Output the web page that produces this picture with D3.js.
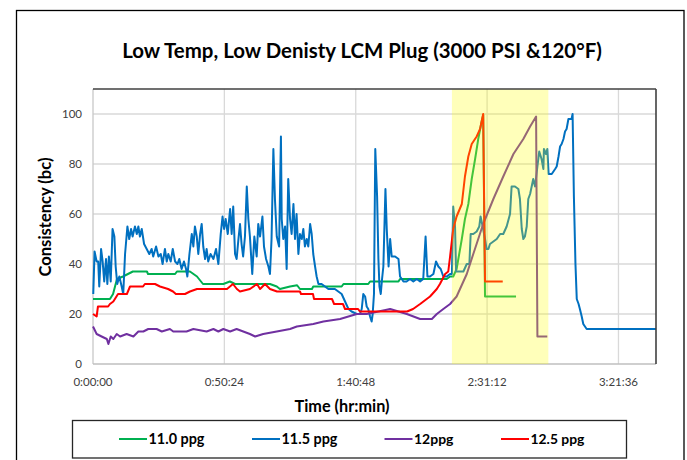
<!DOCTYPE html>
<html><head><meta charset="utf-8">
<script src="https://cdn.jsdelivr.net/npm/d3@7"></script>
<style>body{margin:0;background:#fff}svg{display:block}</style>
</head><body>
<svg id="chart" width="687" height="460"></svg>
<script>
// ---- data (time in minutes, consistency in Bc) ----
const seriesNames = ["11.0 ppg", "11.5 ppg", "12ppg", "12.5 ppg"];
const seriesColors = ["#00B050", "#0070C0", "#7030A0", "#FF0000"];
const xTickMinutes = [0, 50.4, 100.8, 151.2, 201.6];
const yTicks = [0, 20, 40, 60, 80, 100];
const bandMinutes = [137.7, 174.7];

const ppg110 = [[0,26],[6.5,26],[7.7,28],[9.2,34],[11.5,35],[15.3,37],[20.7,37],[21.1,36],[31.5,36],[32.2,37],[37.2,37],[39.9,35],[42.2,32],[50,32],[52.5,33],[54.5,32],[67.9,32],[70.5,31],[71.7,30],[75.6,31],[78.3,31.5],[79.4,30],[84,30],[84.5,31],[95.4,31],[96.1,32],[105.6,32],[106.3,33],[117.2,33],[117.8,34],[135.7,34],[137,35],[138.2,35],[139.5,38],[141.5,50],[142.7,58],[144,64],[145.3,74],[146.6,82],[147.8,90],[149.1,97],[149.7,99.6],[150.4,27],[162.3,27]];

const ppg115 = [[0.1,28],[0.6,45],[1.4,41],[2.0,41],[2.4,31],[3.1,46],[3.7,41],[4.3,33],[5.0,42],[5.5,32],[6.1,43],[6.8,33],[7.5,54],[8.2,51],[8.7,39],[9.3,32],[10.1,35],[11.0,31],[11.6,28],[12.3,44],[13.2,55],[13.9,50],[14.6,54],[15.2,51],[16.1,55],[16.8,52],[17.4,55],[18.0,51],[18.7,54],[19.6,48],[20.6,46],[21.6,44],[22.5,46],[23.1,43],[24.2,47],[25.1,43],[26.0,44],[26.7,40],[27.6,46],[28.3,41],[28.9,44],[29.8,41],[30.6,46],[31.5,41],[32.4,40],[33.1,42],[34.0,38],[34.9,41],[35.7,38],[36.2,35],[37.0,44],[37.9,52],[38.5,47],[39.1,55],[39.8,51],[40.4,44],[41.1,52],[41.7,56],[42.3,47],[43.0,42],[43.6,46],[44.2,41],[45.1,44],[46.2,42],[47.2,46],[48.1,40],[49.0,52],[49.7,59],[50.3,54],[50.9,58],[51.7,52],[52.6,62],[53.2,52],[53.8,63],[54.5,44],[55.1,42],[55.8,50],[56.4,56],[57.0,48],[57.6,43],[58.3,51],[59.0,71],[59.6,58],[60.2,51],[61.1,36],[61.9,51],[62.8,43],[63.4,56],[64.1,51],[65.0,59],[65.6,47],[66.4,42],[67.3,39],[67.9,36],[68.5,50],[69.2,86],[69.8,66],[70.5,51],[71.4,47],[72.1,91],[72.4,58],[73.0,50],[73.7,55],[74.3,38],[74.9,74],[75.6,58],[76.2,52],[76.9,64],[77.5,50],[78.1,60],[78.8,44],[79.4,52],[80.1,50],[80.7,54],[81.3,47],[82.0,50],[82.6,47],[83.3,56],[83.9,52],[84.5,44],[85.2,39],[85.8,35],[86.5,32],[87.7,32],[89.0,31],[90.3,30],[91.6,30],[92.8,30],[94.1,29],[95.4,28],[96.7,25],[98.0,22],[99.2,21],[101.2,20],[102.4,20],[103.1,22],[103.7,28],[104.4,27],[105.0,23],[105.6,22],[106.3,19],[106.9,17],[107.3,20],[107.8,28],[108.3,86],[109.0,67],[109.5,42],[109.9,31],[110.4,28],[110.9,34],[111.4,39],[112.2,70],[112.7,54],[113.4,39],[114.0,50],[114.6,43],[115.9,43],[117.2,42],[117.8,35],[119.1,33],[120.3,33],[121.6,34],[122.9,33],[124.2,34],[125.5,33],[126.7,34],[127.6,51],[128.3,35],[129.3,35],[130.6,36],[131.6,41],[132.5,39],[133.4,38],[134.4,35],[135.7,35],[137.0,36],[137.7,36],[138.2,63],[138.9,55],[139.3,37],[140.8,37],[142.1,37],[143.4,40],[144.4,40],[144.9,52],[145.9,52],[147.2,53],[148.2,55],[148.7,59],[149.5,55],[150.4,50],[151.0,46],[151.7,46],[152.3,48],[153.6,49],[154.9,50],[156.2,52],[157.4,52],[158.7,55],[160.0,60],[160.6,71],[161.9,71],[163.2,70],[163.8,66],[164.5,54],[165.1,50],[165.7,51],[166.4,55],[167.0,66],[167.7,68],[168.3,71],[168.9,74],[169.6,71],[170.5,79],[171.2,85],[172.1,82],[172.8,78],[173.0,86],[173.8,84],[174.3,86],[174.8,76],[176.0,76],[177.3,78],[177.9,79],[178.6,83],[179.2,87],[179.8,88],[180.5,90],[181.1,93],[181.7,94],[182.4,98],[183.0,98],[183.6,98],[184.0,100],[184.5,67],[185.1,40],[185.6,26],[186.3,24],[186.8,22],[187.5,19],[188.1,16],[189.4,14],[190.7,14],[216,14]];

const ppg120 = [[0,15],[1.4,12],[3.3,11],[5.3,10],[5.9,8],[6.8,11],[7.8,10],[9.1,12],[10.4,11],[12.9,12],[15.5,11],[17.4,13],[19.3,13],[21.2,14],[24.4,14],[26.4,13],[29.5,14],[30.8,13],[35.9,13],[38.5,14],[43.6,13],[46.2,14],[48.1,13],[50.0,14],[52.6,13],[55.1,14],[60.2,12],[62.2,11],[65.3,12],[70.5,13],[75.6,14],[78.2,15],[84.5,16],[88.4,17],[94.8,18],[101.2,20],[105.0,20],[114.0,22],[120.4,20],[125.5,18],[130.0,18],[131.9,20],[134.4,22],[137.0,24],[139.5,27],[140.8,30],[143.4,36],[145.9,44],[149.7,56],[153.6,66],[157.4,75],[161.3,84],[165.1,90],[167.7,95],[170.0,99],[170.5,11],[174.3,11]];

const ppg125 = [[0,20],[1.4,19],[1.9,23],[5.8,23],[6.5,24],[7.8,25],[9.6,28],[13.0,28],[14.2,31],[19.2,31],[19.9,32],[23.8,32],[25.7,31],[28.8,30],[30.7,29],[31.8,28],[35.3,28],[37.2,29],[39.9,30],[51.4,30],[53.7,32],[55.2,30],[56.4,29],[60.2,30],[62.9,32],[64.1,30],[66.0,32],[67.9,30],[70.6,29],[79.4,29],[79.8,28],[84.4,28],[84.8,26],[91.7,26],[92.5,24],[95.9,24],[96.7,22],[101.7,22],[102.4,21],[120.5,21],[122.8,22],[125.5,24],[129.3,27],[131.9,30],[133.1,32],[135.1,36],[136.3,37],[137.0,43],[138.2,54],[139.5,59],[141.5,64],[142.7,75],[144.0,83],[145.3,88],[147.2,91],[148.5,94],[149.7,100],[150.4,33],[157.2,33]];

const allSeries = [ppg110, ppg115, ppg120, ppg125];

// ---- layout ----
const svg = d3.select("#chart");
const L = 93, R = 656, T = 89, B = 364;
const x = d3.scaleLinear().domain([0, 216]).range([L, R]);
const y = d3.scaleLinear().domain([0, 110]).range([B, T]);
const FONT = "Lato, 'Open Sans', sans-serif";

function fitWidth(sel, target) {
  const w = sel.node().getComputedTextLength();
  const fs = parseFloat(sel.attr("font-size"));
  sel.attr("font-size", fs * target / w);
}
function fmt(m) {
  const s = Math.round(m * 60);
  const h = Math.floor(s / 3600), mm = Math.floor((s % 3600) / 60), ss = s % 60;
  return h + ":" + String(mm).padStart(2, "0") + ":" + String(ss).padStart(2, "0");
}

// outer border
svg.append("rect").attr("x", 16.5).attr("y", 10.5).attr("width", 667.5).attr("height", 470)
  .attr("fill", "none").attr("stroke", "#000").attr("stroke-width", 1.3);

// title
const title = svg.append("text").attr("x", 362).attr("y", 58).attr("text-anchor", "middle")
  .attr("font-family", FONT).attr("font-weight", "bold").attr("font-size", 19).attr("fill", "#000")
  .text("Low Temp, Low Denisty LCM Plug (3000 PSI &120°F)");
fitWidth(title, 480);

// grid
const g = svg.append("g");
g.selectAll(".hg").data(yTicks.filter(d => d > 0)).enter().append("line")
  .attr("x1", L).attr("x2", R).attr("y1", d => y(d)).attr("y2", d => y(d))
  .attr("stroke", "#d9d9d9").attr("stroke-width", 1.3);
g.selectAll(".vg").data(xTickMinutes.filter(d => d > 0)).enter().append("line")
  .attr("x1", d => x(d)).attr("x2", d => x(d)).attr("y1", T).attr("y2", B)
  .attr("stroke", "#d9d9d9").attr("stroke-width", 1.3);

// axes lines
svg.append("line").attr("x1", L).attr("x2", L).attr("y1", T).attr("y2", B).attr("stroke", "#c8c8c8").attr("stroke-width", 1.3);
svg.append("line").attr("x1", L).attr("x2", R).attr("y1", B).attr("y2", B).attr("stroke", "#bfbfbf").attr("stroke-width", 1.3);

// series lines
const line = d3.line().x(d => x(d[0])).y(d => y(d[1]));
allSeries.forEach((s, i) => {
  svg.append("path").datum(s).attr("d", line).attr("fill", "none")
    .attr("stroke", seriesColors[i]).attr("stroke-width", 2).attr("stroke-linejoin", "round");
});

// highlight band (translucent yellow over the lines)
svg.append("rect").attr("x", x(bandMinutes[0])).attr("y", T)
  .attr("width", x(bandMinutes[1]) - x(bandMinutes[0])).attr("height", B - T)
  .attr("fill", "#FFFF00").attr("opacity", 0.27);

// plot border top/right
svg.append("line").attr("x1", L).attr("x2", R).attr("y1", T).attr("y2", T).attr("stroke", "#404040").attr("stroke-width", 1.6);
svg.append("line").attr("x1", R).attr("x2", R).attr("y1", T).attr("y2", B).attr("stroke", "#404040").attr("stroke-width", 1.6);

// tick labels
const xl = svg.selectAll(".xl").data(xTickMinutes).enter().append("text")
  .attr("x", d => x(d)).attr("y", 386).attr("text-anchor", "middle")
  .attr("font-family", FONT).attr("font-size", 11.5).attr("fill", "#404040").text(fmt);
svg.selectAll(".yl").data(yTicks).enter().append("text")
  .attr("x", 82).attr("y", d => y(d) + 4).attr("text-anchor", "end")
  .attr("font-family", FONT).attr("font-size", 11.5).attr("fill", "#404040").text(d => d);

// axis titles
const xt = svg.append("text").attr("x", 342).attr("y", 412).attr("text-anchor", "middle")
  .attr("font-family", FONT).attr("font-weight", "bold").attr("font-size", 14).attr("fill", "#000")
  .text("Time (hr:min)");
fitWidth(xt, 95);
const yt = svg.append("text").attr("transform", "translate(51,217) rotate(-90)").attr("text-anchor", "middle")
  .attr("font-family", FONT).attr("font-weight", "bold").attr("font-size", 14).attr("fill", "#000")
  .text("Consistency (bc)");
fitWidth(yt, 119);

// legend
svg.append("rect").attr("x", 72.5).attr("y", 420.5).attr("width", 554).attr("height", 37.5)
  .attr("fill", "#fff").attr("stroke", "#262626").attr("stroke-width", 1.3);
const legX = [119, 252, 384.5, 501];
const legW = [56, 56, 39.5, 54];
seriesNames.forEach((n, i) => {
  svg.append("line").attr("x1", legX[i]).attr("x2", legX[i] + 28).attr("y1", 439).attr("y2", 439)
    .attr("stroke", seriesColors[i]).attr("stroke-width", 2);
  const t = svg.append("text").attr("x", legX[i] + 29.5).attr("y", 444)
    .attr("font-family", FONT).attr("font-weight", "bold").attr("font-size", 13.5).attr("fill", "#000").text(n);
  fitWidth(t, legW[i]);
});
</script>
</body></html>
